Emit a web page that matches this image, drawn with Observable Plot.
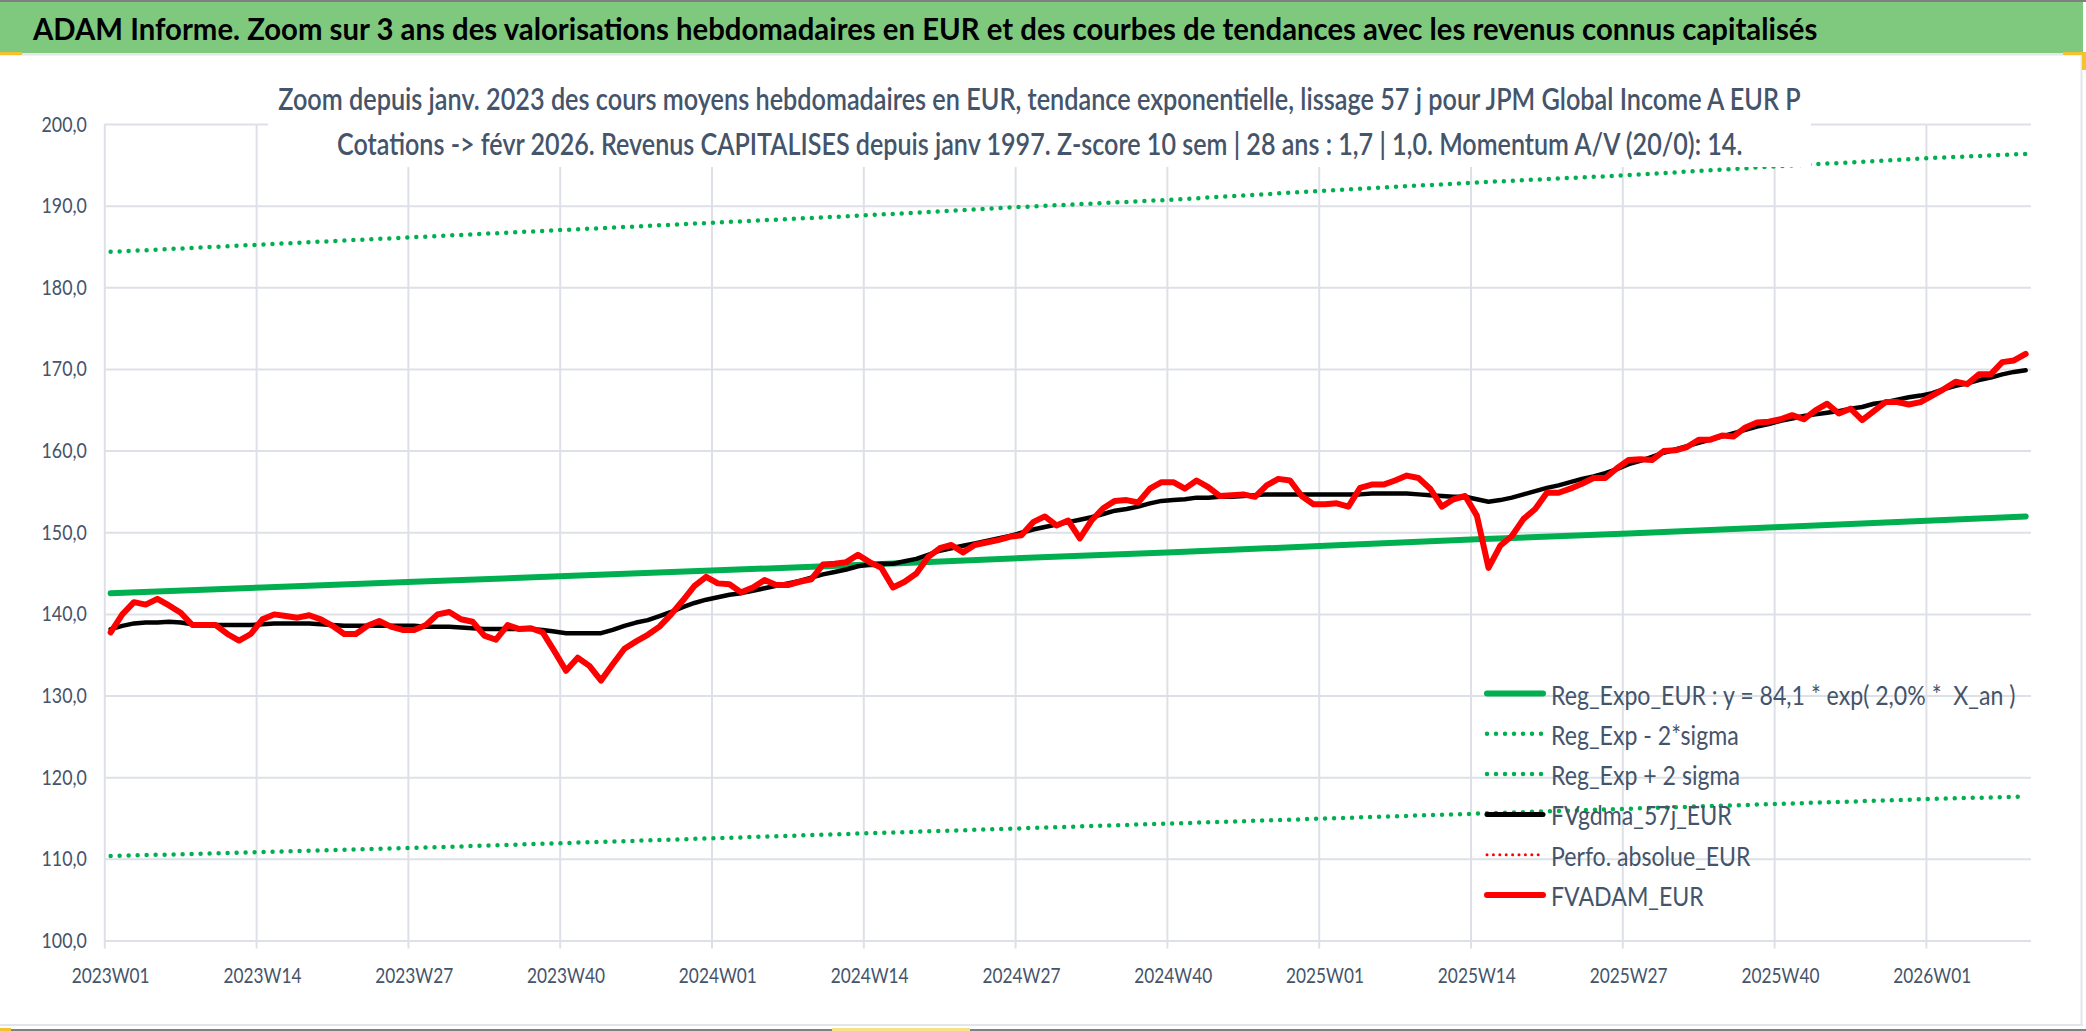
<!DOCTYPE html>
<html>
<head>
<meta charset="utf-8">
<script src="https://cdn.jsdelivr.net/npm/d3@7"></script>
<script src="https://cdn.jsdelivr.net/npm/@observablehq/plot@0.6"></script>
<style>
html, body { margin: 0; padding: 0; background: #fff; }
#page { position: relative; width: 2086px; height: 1031px; overflow: hidden; background: #fff; font-family: Lato, "Open Sans", sans-serif; }
#chart { position: absolute; left: 0; top: 56px; }
#overlay { position: absolute; left: 0; top: 0; pointer-events: none; }
</style>
</head>
<body>
<div id="page"><div id="chart"></div></div>
<script>
// ---------- data ----------
const titleText = "ADAM Informe. Zoom sur 3 ans des valorisations hebdomadaires en EUR et des courbes de tendances avec les revenus connus capitalisés";
const subtitleLines = [
  "Zoom depuis janv. 2023 des cours moyens hebdomadaires en EUR, tendance exponentielle, lissage 57 j pour JPM Global Income A EUR P",
  "Cotations -> févr 2026. Revenus CAPITALISES depuis janv 1997. Z-score 10 sem | 28 ans : 1,7 | 1,0. Momentum A/V (20/0): 14."
];
const legendLabels = [
  "Reg_Expo_EUR : y = 84,1 * exp( 2,0% *  X_an )",
  "Reg_Exp - 2*sigma",
  "Reg_Exp + 2 sigma",
  "FVgdma_57j_EUR",
  "Perfo. absolue_EUR",
  "FVADAM_EUR"
];

// week categories (index 0 = 2023W01 ... 164 = 2026W09)
const tickIndex = [0, 13, 26, 39, 52, 65, 78, 91, 104, 117, 130, 143, 156];
const tickLabels = ["2023W01","2023W14","2023W27","2023W40","2024W01","2024W14","2024W27","2024W40","2025W01","2025W14","2025W27","2025W40","2026W01"];
const yTicks = [100, 110, 120, 130, 140, 150, 160, 170, 180, 190, 200];

// FVADAM_EUR weekly values
const fvadam = [
  137.8,140.0,141.5,141.2,141.9,141.1,140.2,138.7,138.7,138.7,
  137.6,136.8,137.6,139.4,140.0,139.8,139.6,139.9,139.4,138.6,
  137.6,137.6,138.6,139.2,138.5,138.1,138.1,138.7,140.0,140.3,
  139.4,139.1,137.4,136.9,138.7,138.2,138.3,137.8,135.5,133.1,
  134.7,133.7,131.9,133.9,135.8,136.7,137.5,138.5,140.0,141.7,
  143.5,144.6,143.8,143.7,142.7,143.3,144.2,143.6,143.6,144.0,
  144.3,146.1,146.2,146.4,147.3,146.4,145.7,143.3,144.0,145.0,
  147.0,148.1,148.5,147.6,148.5,148.8,149.1,149.5,149.7,151.3,
  152.0,150.9,151.5,149.3,151.5,153.0,153.9,154.0,153.7,155.4,
  156.2,156.2,155.4,156.4,155.6,154.5,154.6,154.7,154.4,155.8,
  156.6,156.4,154.5,153.5,153.5,153.6,153.2,155.5,155.9,155.9,
  156.4,157.0,156.7,155.4,153.2,154.1,154.5,152.1,145.7,148.4,
  149.6,151.7,152.9,154.9,154.9,155.4,156.0,156.7,156.7,157.9,
  158.9,159.0,158.9,160.0,160.1,160.5,161.4,161.4,161.9,161.8,
  162.9,163.5,163.6,163.9,164.4,163.9,165.0,165.8,164.6,165.2,
  163.8,164.9,166.0,166.0,165.7,166.0,166.8,167.6,168.5,168.2,
  169.4,169.4,170.9,171.1,171.9
];

// FVgdma_57j_EUR weekly values
const fvgdma = [
  138.2,138.6,138.9,139.0,139.0,139.1,139.0,138.8,138.7,138.7,
  138.7,138.7,138.7,138.8,138.9,138.9,138.9,138.9,138.8,138.7,
  138.6,138.6,138.6,138.6,138.6,138.6,138.6,138.5,138.5,138.5,
  138.4,138.3,138.2,138.2,138.2,138.2,138.2,138.1,137.9,137.7,
  137.7,137.7,137.7,138.1,138.6,139.0,139.3,139.8,140.3,140.9,
  141.4,141.8,142.1,142.4,142.6,142.9,143.2,143.5,143.8,144.1,
  144.5,144.9,145.2,145.5,145.9,146.1,146.2,146.2,146.5,146.8,
  147.3,147.8,148.1,148.4,148.7,149.0,149.3,149.6,150.0,150.4,
  150.7,151.0,151.3,151.6,151.9,152.3,152.7,152.9,153.2,153.6,
  153.9,154.0,154.1,154.3,154.3,154.4,154.4,154.5,154.6,154.7,
  154.7,154.7,154.7,154.7,154.7,154.7,154.7,154.7,154.8,154.8,
  154.8,154.8,154.7,154.6,154.5,154.4,154.4,154.1,153.8,154.0,
  154.3,154.7,155.1,155.5,155.8,156.2,156.6,156.9,157.3,157.8,
  158.4,158.8,159.3,159.8,160.2,160.6,161.0,161.4,161.8,162.2,
  162.6,163.0,163.3,163.7,164.0,164.3,164.5,164.7,164.9,165.2,
  165.4,165.8,166.0,166.3,166.6,166.8,167.1,167.6,168.0,168.3,
  168.7,169.0,169.4,169.7,169.9
];

// trend curves read at the tick weeks and at the last week
const trendIndex = [0, 13, 26, 39, 52, 65, 78, 91, 104, 117, 130, 143, 156, 164];
const regExpo   = [142.6,143.3,144.0,144.7,145.4,146.1,146.9,147.6,148.4,149.2,149.9,150.7,151.5,152.0];
const regMinus2 = [110.4,110.9,111.4,112.0,112.6,113.2,113.8,114.4,115.0,115.6,116.2,116.8,117.4,117.7];
const regPlus2  = [184.4,185.3,186.2,187.1,188.0,188.9,189.9,190.8,191.9,192.9,193.8,194.9,195.9,196.4];

// ---------- styles ----------
const GREEN = "#00b050", RED = "#ff0000", BLACK = "#000000";
const GRID = "#dde1e7", TEXT = "#44546a";
const FONT = "Lato, 'Open Sans', sans-serif";

// ---------- chart ----------
const weekRows = fvadam.map((v, i) => ({i, fvadam: v, fvgdma: fvgdma[i]}));
const trendRows = trendIndex.map((i, k) => ({i, expo: regExpo[k], minus: regMinus2[k], plus: regPlus2[k]}));
const bounds = tickIndex.map(i => i - 0.5);
const fmtY = d => d.toFixed(1).replace(".", ",");

const plot = Plot.plot({
  width: 2086,
  height: 969,
  marginLeft: 104.3,
  marginRight: 55,
  marginTop: 68,
  marginBottom: 84.5,
  style: {fontFamily: FONT, fontSize: "22px", color: TEXT, background: "transparent", overflow: "visible"},
  x: {type: "linear", domain: [-0.5, 164.5], label: null},
  y: {domain: [100, 200], label: null},
  marks: [
    Plot.gridY(yTicks, {stroke: GRID, strokeOpacity: 1, strokeWidth: 2}),
    Plot.gridX(bounds, {stroke: GRID, strokeOpacity: 1, strokeWidth: 2}),
    Plot.axisX(bounds, {tickSize: 8, tickFormat: () => "", stroke: GRID, strokeWidth: 2, strokeOpacity: 1}),
    Plot.axisX(tickIndex, {tickSize: 0, tickPadding: 26, fontSize: 22, fill: TEXT,
      tickFormat: i => tickLabels[tickIndex.indexOf(i)]}),
    Plot.axisY(yTicks, {tickSize: 0, tickPadding: 18, fontSize: 22, fill: TEXT, tickFormat: fmtY}),
    Plot.line(trendRows, {x: "i", y: "expo", stroke: GREEN, strokeWidth: 6, strokeLinecap: "round"}),
    Plot.line(trendRows, {x: "i", y: "minus", stroke: GREEN, strokeWidth: 4.5, strokeDasharray: "0 9", strokeLinecap: "round"}),
    Plot.line(trendRows, {x: "i", y: "plus", stroke: GREEN, strokeWidth: 4.5, strokeDasharray: "0 9", strokeLinecap: "round"}),
    Plot.line(weekRows, {x: "i", y: "fvgdma", stroke: BLACK, strokeWidth: 4.5, strokeLinejoin: "round", strokeLinecap: "round"}),
    Plot.line(weekRows, {x: "i", y: "fvadam", stroke: RED, strokeWidth: 6, strokeLinejoin: "round", strokeLinecap: "round"})
  ]
});
document.getElementById("chart").append(plot);

// condense axis label glyphs to the narrow look of the original
function condense(nodes, sampleText, targetWidth) {
  const list = [...nodes].filter(n => n.textContent.length);
  const sample = list.find(n => n.textContent === sampleText) || list[0];
  if (!sample) return;
  const s = targetWidth / sample.getComputedTextLength();
  for (const n of list) {
    n.setAttribute("textLength", (n.getComputedTextLength() * s).toFixed(2));
    n.setAttribute("lengthAdjust", "spacingAndGlyphs");
  }
}
condense(plot.querySelectorAll('g[aria-label="x-axis tick label"] text'), "2023W01", 78);
condense(plot.querySelectorAll('g[aria-label="y-axis tick label"] text'), "200,0", 45.3);

// ---------- overlay: title band, subtitle box, legend, frame ----------
const NS = "http://www.w3.org/2000/svg";
const ov = document.createElementNS(NS, "svg");
ov.setAttribute("id", "overlay");
ov.setAttribute("width", 2086);
ov.setAttribute("height", 1031);
document.getElementById("page").append(ov);
function el(tag, attrs, text, parent) {
  const e = document.createElementNS(NS, tag);
  for (const k in attrs) e.setAttribute(k, attrs[k]);
  if (text != null) e.textContent = text;
  (parent || ov).append(e);
  return e;
}
// text squeezed horizontally (by transform) to a target width
function squeezedText(x, y, anchor, targetWidth, attrs, text) {
  const g = el("g", {});
  const t = el("text", Object.assign({x: 0, y: 0, "text-anchor": anchor, "font-family": FONT}, attrs), text, g);
  const s = targetWidth / t.getComputedTextLength();
  g.setAttribute("transform", `translate(${x},${y}) scale(${s.toFixed(4)},1)`);
  return {g, t, s};
}
// frame & band
el("rect", {x: 0, y: 0, width: 2086, height: 2, fill: "#808080"});
el("rect", {x: 0, y: 2, width: 2083, height: 51, fill: "#7fc97f"});
el("rect", {x: 0, y: 53, width: 2083, height: 2.5, fill: "#e2e5ea"});
el("rect", {x: 2080.5, y: 55, width: 2, height: 970, fill: "#e2e5ea"});
el("rect", {x: 0, y: 1024, width: 2083, height: 2, fill: "#e2e5ea"});
el("rect", {x: 0, y: 1029, width: 2086, height: 2, fill: "#808080"});
el("rect", {x: 0, y: 52, width: 22, height: 3, fill: "#f2c230"});
el("rect", {x: 2063, y: 52, width: 23, height: 3, fill: "#f2c230"});
el("rect", {x: 2082, y: 52, width: 4, height: 18, fill: "#f2c230"});
el("rect", {x: 0, y: 1028, width: 11, height: 3, fill: "#f2c230"});
el("rect", {x: 832, y: 1028, width: 138, height: 3, fill: "#f7e08a"});
// title
squeezedText(33, 40, "start", 1785, {"font-size": 30, "font-weight": 700, fill: "#000"}, titleText);
// subtitle box
el("rect", {x: 268, y: 60, width: 1543, height: 107, fill: "#fff"});
squeezedText(1039.5, 110, "middle", 1523, {"font-size": 30, "font-weight": 600, fill: TEXT}, subtitleLines[0]);
squeezedText(1039.7, 155, "middle", 1406, {"font-size": 30, "font-weight": 600, fill: TEXT}, subtitleLines[1]);
// legend
const legendStyles = [
  {stroke: GREEN, w: 6, dash: null},
  {stroke: GREEN, w: 4.5, dash: "0 9"},
  {stroke: GREEN, w: 4.5, dash: "0 9"},
  {stroke: BLACK, w: 5, dash: null},
  {stroke: RED, w: 3, dash: "0 6.4"},
  {stroke: RED, w: 6, dash: null}
];
// common squeeze factor for the legend, taken from the second entry's width
let legendScale;
{
  const probe = el("text", {"font-size": 27, "font-family": FONT, style: "white-space: pre"}, legendLabels[1]);
  legendScale = 187.7 / probe.getComputedTextLength();
  probe.remove();
}
legendLabels.forEach((label, k) => {
  const cy = 693.5 + 40.3 * k;
  const st = legendStyles[k];
  const a = {x1: 1487, x2: 1543, y1: cy, y2: cy, stroke: st.stroke, "stroke-width": st.w, "stroke-linecap": "round"};
  if (st.dash) a["stroke-dasharray"] = st.dash;
  el("line", a);
  const g = el("g", {transform: `translate(1551,${cy + 11}) scale(${legendScale.toFixed(4)},1)`});
  el("text", {x: 0, y: 0, "font-size": 27, fill: TEXT, style: "white-space: pre", "font-family": FONT}, label, g);
});
</script>
</body>
</html>
